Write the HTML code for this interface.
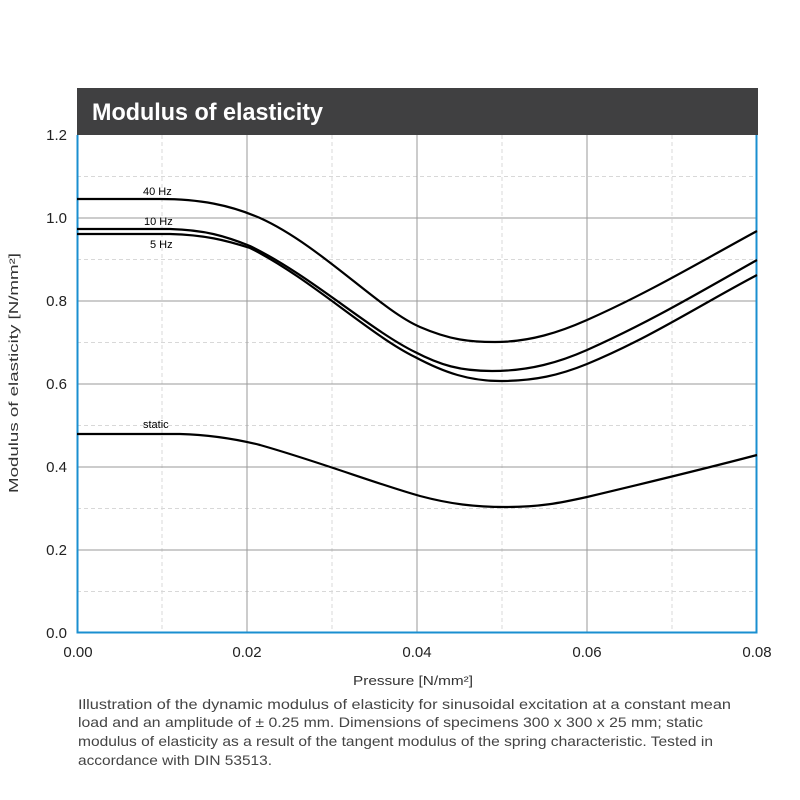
<!DOCTYPE html>
<html><head><meta charset="utf-8"><style>
body{margin:0;background:#fff;font-family:"Liberation Sans",sans-serif;}
</style></head><body>
<svg width="800" height="800" xmlns="http://www.w3.org/2000/svg" style="display:block" font-family="Liberation Sans, sans-serif">
<rect width="800" height="800" fill="#fff"/>
<g stroke="#d8d8d8" stroke-width="1" stroke-dasharray="4,3">
<line x1="162" y1="135" x2="162" y2="633"/><line x1="332" y1="135" x2="332" y2="633"/>
<line x1="502" y1="135" x2="502" y2="633"/><line x1="672" y1="135" x2="672" y2="633"/>
<line x1="77" y1="176.5" x2="757" y2="176.5"/><line x1="77" y1="259.5" x2="757" y2="259.5"/>
<line x1="77" y1="342.5" x2="757" y2="342.5"/><line x1="77" y1="425.5" x2="757" y2="425.5"/>
<line x1="77" y1="508.5" x2="757" y2="508.5"/><line x1="77" y1="591.5" x2="757" y2="591.5"/>
</g>
<g stroke="#9a9a9a" stroke-width="1">
<line x1="247" y1="135" x2="247" y2="633"/><line x1="417" y1="135" x2="417" y2="633"/><line x1="587" y1="135" x2="587" y2="633"/>
<line x1="77" y1="218" x2="757" y2="218"/><line x1="77" y1="301" x2="757" y2="301"/>
<line x1="77" y1="384" x2="757" y2="384"/><line x1="77" y1="467" x2="757" y2="467"/><line x1="77" y1="550" x2="757" y2="550"/>
</g>
<polyline points="77.5,135 77.5,632.5 756.5,632.5 756.5,135" fill="none" stroke="#1a8fd0" stroke-width="2"/>
<rect x="77" y="88" width="681" height="47" fill="#404041"/>
<text x="92" y="120" fill="#fff" font-size="24" font-weight="bold" textLength="231" lengthAdjust="spacingAndGlyphs">Modulus of elasticity</text>
<g fill="none" stroke="#000" stroke-width="2.2">
<path d="M77,199 L160,199 C200,199 230,205 260,218 C320,245 380,310 420,327 C450,340 470,342 495,342 C530,342 560,332 587,320 C650,292 700,262 757,231"/>
<path d="M77,229 L170,229 C205,230 225,236 250,246 C310,275 370,330 415,352 C440,365 460,371 492,371 C530,371 560,362 587,350 C650,322 700,292 757,260"/>
<path d="M77,234 L170,234 C205,235 225,240 250,248 C310,278 370,335 415,357 C445,373 470,381 500,381 C535,381 560,375 587,364 C650,338 700,305 757,275"/>
<path d="M77,434 L180,434 C215,435 240,440 260,445 C320,462 380,485 420,496 C450,504 475,507 505,507 C540,507 560,503 587,497 C650,482 700,470 757,455"/>
</g>
<g font-size="11" fill="#000">
<text x="143" y="195">40 Hz</text><text x="144" y="225">10 Hz</text><text x="150" y="248">5 Hz</text><text x="143" y="428">static</text>
</g>
<g font-size="15" fill="#222" text-anchor="end">
<text x="67" y="140">1.2</text><text x="67" y="223">1.0</text><text x="67" y="306">0.8</text><text x="67" y="389">0.6</text>
<text x="67" y="472">0.4</text><text x="67" y="555">0.2</text><text x="67" y="638">0.0</text>
</g>
<g font-size="15" fill="#222" text-anchor="middle">
<text x="78" y="657">0.00</text><text x="247" y="657">0.02</text><text x="417" y="657">0.04</text><text x="587" y="657">0.06</text><text x="757" y="657">0.08</text>
</g>
<text x="353" y="685" font-size="13" fill="#333" textLength="120" lengthAdjust="spacingAndGlyphs">Pressure [N/mm²]</text>
<text transform="translate(18,493) rotate(-90)" font-size="13" fill="#333" textLength="240" lengthAdjust="spacingAndGlyphs">Modulus of elasticity  [N/mm²]</text>
<g font-size="14" fill="#444" lengthAdjust="spacingAndGlyphs">
<text x="78" y="709" textLength="653" lengthAdjust="spacingAndGlyphs">Illustration of the dynamic modulus of elasticity for sinusoidal excitation at a constant mean</text>
<text x="78" y="727" textLength="625" lengthAdjust="spacingAndGlyphs">load and an amplitude of ± 0.25 mm. Dimensions of specimens 300 x 300 x 25 mm; static</text>
<text x="78" y="746" textLength="635" lengthAdjust="spacingAndGlyphs">modulus of elasticity as a  result of the tangent modulus of the spring characteristic. Tested in</text>
<text x="78" y="765" textLength="194" lengthAdjust="spacingAndGlyphs">accordance with DIN 53513.</text>
</g>
</svg>
</body></html>
